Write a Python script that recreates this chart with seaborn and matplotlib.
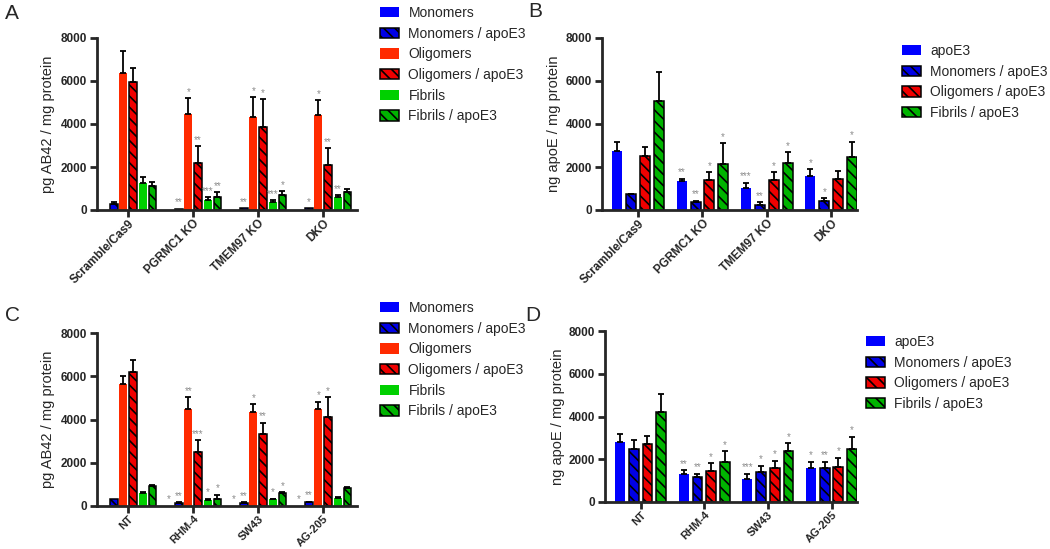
import numpy as np
import pandas as pd
import seaborn as sns
import matplotlib.pyplot as plt

# ---- panel A / C: AB42 species ----
groups_ab = ["Scramble/Cas9", "PGRMC1 KO", "TMEM97 KO", "DKO"]
groups_cd = ["NT", "RHM-4", "SW43", "AG-205"]
series_ac = ["Monomers", "Monomers / apoE3", "Oligomers", "Oligomers / apoE3",
             "Fibrils", "Fibrils / apoE3"]
series_bd = ["apoE3", "Monomers / apoE3", "Oligomers / apoE3", "Fibrils / apoE3"]

a_mono = [15, 15, 15, 15]
a_mono_apoe = [290, 60, 90, 90]
a_olig = [6380, 4470, 4340, 4420]
a_olig_apoe = [5950, 2190, 3850, 2090]
a_fib = [1270, 470, 350, 600]
a_fib_apoe = [1130, 600, 700, 840]
a_err = [[0, 0, 0, 0], [60, 0, 0, 0], [1030, 730, 920, 700],
         [650, 790, 1310, 790], [280, 140, 120, 80], [180, 230, 180, 140]]
a_stars = [["", "", "", ""], ["", "**", "**", "*"], ["", "*", "*", "*"],
           ["", "**", "*", "**"], ["", "***", "***", "**"], ["", "**", "*", ""]]

# ---- panel B / D: apoE ----
b_apoe = [2760, 1350, 1040, 1580]
b_mono = [730, 390, 230, 420]
b_olig = [2510, 1400, 1400, 1430]
b_fib = [5090, 2140, 2200, 2450]
b_err = [[420, 110, 230, 320], [30, 40, 130, 130],
         [420, 360, 360, 390], [1350, 970, 490, 730]]
b_stars = [["", "**", "***", "*"], ["", "**", "**", "*"],
           ["", "*", "*", ""], ["", "*", "*", "*"]]

c_mono = [15, 15, 15, 15]
c_mono_apoe = [330, 150, 150, 170]
c_olig = [5650, 4470, 4360, 4470]
c_olig_apoe = [6200, 2520, 3330, 4130]
c_fib = [610, 260, 310, 380]
c_fib_apoe = [920, 330, 600, 820]
c_err = [[0, 0, 0, 0], [0, 30, 30, 30], [340, 560, 360, 360],
         [560, 510, 520, 900], [40, 80, 30, 30], [40, 200, 40, 40]]
c_stars = [["", "*", "*", "*"], ["", "**", "**", "**"], ["", "**", "*", "*"],
           ["", "***", "**", "*"], ["", "*", "*", ""], ["", "*", "*", ""]]

d_apoe = [2800, 1320, 1090, 1600]
d_mono = [2490, 1150, 1400, 1590]
d_olig = [2720, 1460, 1590, 1650]
d_fib = [4230, 1850, 2400, 2500]
d_err = [[380, 170, 230, 290], [420, 170, 300, 300],
         [390, 360, 350, 430], [810, 530, 360, 550]]
d_stars = [["", "**", "***", "*"], ["", "**", "*", "**"],
           ["", "*", "*", "*"], ["", "*", "*", "*"]]

colors_ac = ["#0000ff", "#0000e6", "#ff2a00", "#f00000", "#00d000", "#00b400"]
hatched_ac = [False, True, False, True, False, True]
colors_bd = ["#0000ff", "#0000e6", "#f00000", "#00b400"]
hatched_bd = [False, True, True, True]

W, H = 1050, 549


def draw_panel(ax, groups, series, values, errs, stars, colors, hatched,
               width, gap, xlim, ylabel, leg_xy, xfs=8.5):
    rows = []
    for s, vals in zip(series, values):
        for g, v in zip(groups, vals):
            rows.append({"group": g, "series": s, "value": v})
    df = pd.DataFrame(rows)
    sns.barplot(data=df, x="group", y="value", hue="series", order=groups,
                hue_order=series, palette=colors, width=width, gap=gap,
                errorbar=None, saturation=1, legend=False, ax=ax)
    bars = list(ax.containers)
    for i, cont in enumerate(bars):
        for bar in cont.patches:
            if hatched[i]:
                bar.set_hatch("\\\\\\")
                bar.set_edgecolor("black")
                bar.set_linewidth(1.1)
            else:
                bar.set_linewidth(0)
        xs = np.array([b.get_x() + b.get_width() / 2 for b in cont.patches])
        hs = np.array([b.get_height() for b in cont.patches])
        e = np.array(errs[i])
        m = e > 0
        if m.any():
            ax.errorbar(xs[m], hs[m], yerr=[np.zeros(m.sum()), e[m]], fmt="none",
                        ecolor="black", elinewidth=1.3, capsize=2.5,
                        capthick=1.3, zorder=3)
        for x, h, ee, st in zip(xs, hs, e, stars[i]):
            if st:
                ax.text(x, h + ee + 60, st, ha="center", va="bottom",
                        fontsize=7, color="#8c8c8c")

    ax.set_ylim(0, 8000)
    ax.set_xlim(*xlim)
    ax.set_yticks([0, 2000, 4000, 6000, 8000])
    ax.set_xlabel("")
    ax.set_ylabel(ylabel, fontsize=10.5)
    ax.yaxis.set_label_coords(-0.16, 0.5)
    sns.despine(ax=ax)
    for sp in ["left", "bottom"]:
        ax.spines[sp].set_linewidth(2)
    ax.tick_params(width=2, length=5, labelsize=8.5, pad=2)
    ax.tick_params(axis="x", pad=0.5)
    for lab in ax.get_yticklabels():
        lab.set_fontweight("bold")
    ax.set_xticks(range(len(groups)))
    ax.set_xticklabels(groups, rotation=45, ha="right", rotation_mode="anchor",
                       fontweight="bold", fontsize=xfs)

    ax.legend(bars, series, loc="upper left", frameon=False,
              bbox_to_anchor=(leg_xy[0] / W, 1 - leg_xy[1] / H),
              bbox_transform=ax.figure.transFigure, borderpad=0,
              borderaxespad=0, fontsize=10, handlelength=1.4,
              handleheight=0.75, handletextpad=0.65, labelspacing=0.48)


sns.set_style("ticks")
plt.rcParams["font.family"] = ["Liberation Sans", "DejaVu Sans"]
plt.rcParams["hatch.linewidth"] = 1.2

fig = plt.figure(figsize=(10.5, 5.49), dpi=100)


def px_axes(left, top, right, bottom):
    return fig.add_axes([left / W, 1 - bottom / H, (right - left) / W, (bottom - top) / H])


ax_a = px_axes(97, 38, 357, 210)
ax_b = px_axes(602, 38, 857, 210)
ax_c = px_axes(97, 333, 357, 506)
ax_d = px_axes(605, 331, 857, 502)

draw_panel(ax_a, groups_ab, series_ac,
           [a_mono, a_mono_apoe, a_olig, a_olig_apoe, a_fib, a_fib_apoe],
           a_err, a_stars, colors_ac, hatched_ac, 0.895, 0.2, (-0.48, 3.52),
           "pg AB42 / mg protein", (380, 6))
draw_panel(ax_b, groups_ab, series_bd, [b_apoe, b_mono, b_olig, b_fib],
           b_err, b_stars, colors_bd, hatched_bd, 0.86, 0.28, (-0.56, 3.40),
           "ng apoE / mg protein", (902, 44))
draw_panel(ax_c, groups_cd, series_ac,
           [c_mono, c_mono_apoe, c_olig, c_olig_apoe, c_fib, c_fib_apoe],
           c_err, c_stars, colors_ac, hatched_ac, 0.895, 0.2, (-0.48, 3.52),
           "pg AB42 / mg protein", (380, 301), xfs=8)
draw_panel(ax_d, groups_cd, series_bd, [d_apoe, d_mono, d_olig, d_fib],
           d_err, d_stars, colors_bd, hatched_bd, 0.86, 0.28, (-0.56, 3.40),
           "ng apoE / mg protein", (866, 335), xfs=8)

for letter, x, y in [("A", 5, 4), ("B", 528, 2), ("C", 5, 306), ("D", 525, 306)]:
    fig.text(x / W, 1 - y / H, letter, fontsize=15, ha="left", va="top")

fig.savefig("out.png", dpi=100)
